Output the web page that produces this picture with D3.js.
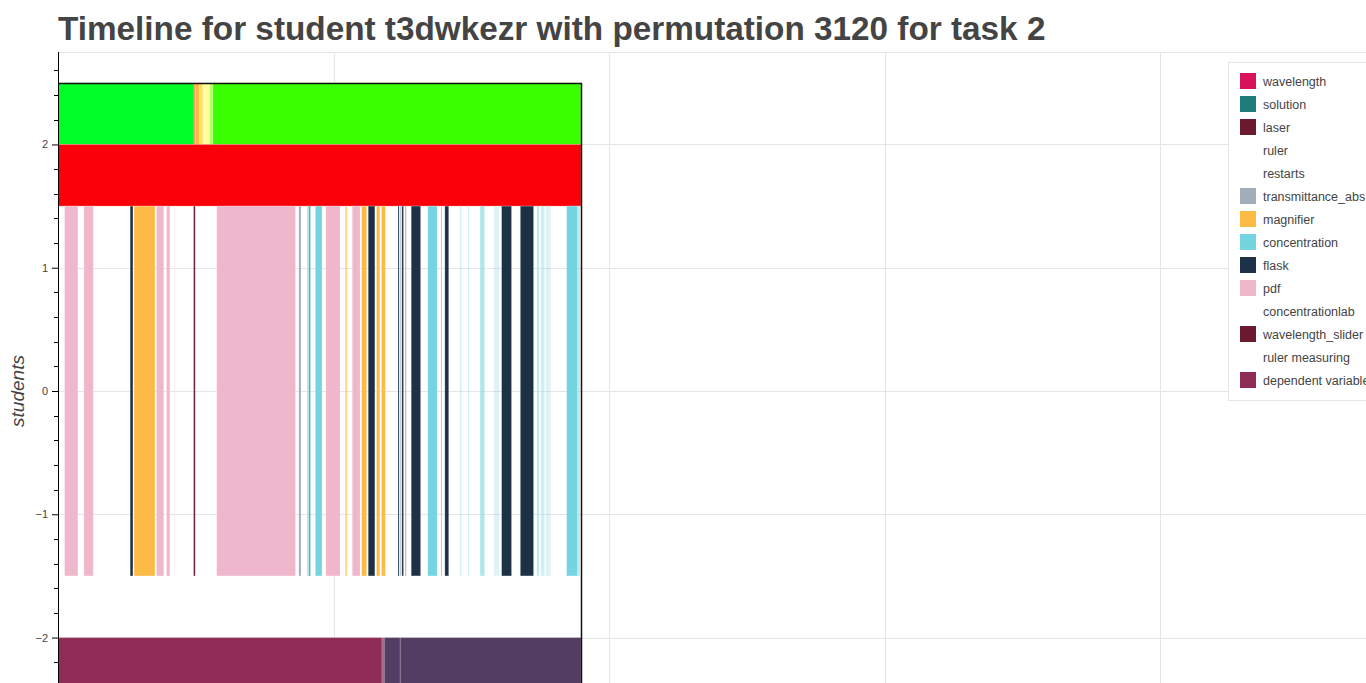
<!DOCTYPE html>
<html>
<head>
<meta charset="utf-8">
<script src="https://cdn.jsdelivr.net/npm/d3@7"></script>
<style>
  body { margin: 0; background: #fff; overflow: hidden; }
  svg { display: block; font-family: "Liberation Sans", Arial, Helvetica, sans-serif; }
</style>
</head>
<body>
<svg id="chart"></svg>
<script>
// legend categories and their colours (bokeh palette, some blank)
var categories = ["wavelength", "solution", "laser", "ruler", "restarts", "transmittance_abs",
  "magnifier", "concentration", "flask", "pdf", "concentrationlab", "wavelength_slider",
  "ruler measuring", "dependent variable"];
var catColors = ["#d8125b", "#1e7f7a", "#6b1a30", "#ffffff", "#ffffff", "#a3adba",
  "#fdbb45", "#74d4e0", "#1c3146", "#efb7cb", "#ffffff", "#6b1a30",
  "#ffffff", "#8e2c55"];

// middle row: actions over time (seconds), weight = strength of the colour
var evCat =   ["pdf","pdf","flask","magnifier","pdf","pdf","pdf","wavelength_slider","pdf","transmittance_abs",
  "concentration","solution","concentration","pdf","magnifier","pdf","magnifier","flask","magnifier","magnifier",
  "flask","transmittance_abs","flask","transmittance_abs","flask","concentration","transmittance_abs","flask",
  "concentration","concentration","concentration","concentration","flask","flask","concentration","concentration",
  "concentration","concentration","concentration"];
var evStart = [12,47,131,138,179,197,211,246,288,437,
  452,456,467,486,521,534,551,563,578,587,
  617,621,624,630,641,671,695,702,
  730,744,766,791,805,839,869,876,885,923,943];
var evEnd =   [36,64,136,176,192,203,212,249,431,441,
  456,458,479,512,525,548,560,575,584,594,
  619,622,627,632,658,688,696,709,
  732,746,774,801,823,863,873,883,894,943,947];
var evWeight = [1,1,1,1,1,1,0.2,1,1,1,
  0.6,1,1,1,0.6,1,1,1,1,1,
  1,1,1,1,1,1,1,1,
  0.5,0.4,0.6,0.25,1,1,0.5,0.35,0.25,1,0.5];

// top row: state over time
var topState = ["a","b","c","d","e","f","g"];
var topStart = [0, 247, 250, 257, 263, 275, 281];
var topEnd =   [247, 250, 257, 263, 275, 281, 949];
var stateColors = {a: "#00ff26", b: "#ff8a3c", c: "#ffb547", d: "#ffe45a", e: "#ffff9e", f: "#b8ff66", g: "#39ff00"};

// second row
var redStart = [0], redEnd = [949];

// bottom row
var botCat = ["dependent variable", "other", "independent", "independent"];
var botStart = [0, 588, 592, 621];
var botEnd =   [588, 592, 621, 949];
var botColors = {"dependent variable": "#8e2c55", "other": "#9e5a7e", "independent": "#523d63"};

var yTicks = [2, 1, 0, -1, -2];
var xGrid = [500, 1000, 1500, 2000];

var width = 1366, height = 683;
var mLeft = 58, mTop = 52, mRight = 1380, mBottom = 730;

var svg = d3.select("#chart").attr("width", width).attr("height", height);

var x = d3.scaleLinear().domain([0, 2399]).range([mLeft, mRight]);
var y = d3.scaleLinear().domain([2.75, -2.75]).range([mTop, mBottom]);
var color = d3.scaleOrdinal().domain(categories).range(catColors);

svg.append("text")
  .attr("x", 58).attr("y", 40)
  .attr("font-size", 33.3).attr("font-weight", "bold").attr("fill", "#444")
  .text("Timeline for student t3dwkezr with permutation 3120 for task 2");

// grid
var grid = svg.append("g");
grid.selectAll(".hg").data(yTicks).enter().append("line")
  .attr("x1", mLeft).attr("x2", width)
  .attr("y1", function(d) { return Math.round(y(d)) + 0.5; })
  .attr("y2", function(d) { return Math.round(y(d)) + 0.5; })
  .attr("stroke", "#e5e5e5");
grid.selectAll(".vg").data(xGrid).enter().append("line")
  .attr("x1", function(d) { return Math.round(x(d)) + 0.5; })
  .attr("x2", function(d) { return Math.round(x(d)) + 0.5; })
  .attr("y1", mTop).attr("y2", height)
  .attr("stroke", "#e5e5e5");
svg.append("line").attr("x1", mLeft).attr("x2", width).attr("y1", mTop + 0.5).attr("y2", mTop + 0.5)
  .attr("stroke", "#e5e5e5");

function bars(g, starts, ends, y0, y1, fill, op) {
  g.selectAll("rect").data(d3.range(starts.length)).enter().append("rect")
    .attr("x", function(i) { return x(starts[i]); })
    .attr("width", function(i) { return Math.max(0.8, x(ends[i]) - x(starts[i])); })
    .attr("y", y(y0)).attr("height", y(y1) - y(y0))
    .attr("fill", fill)
    .attr("fill-opacity", op || 1)
    .attr("stroke", "#fff").attr("stroke-opacity", 0.25).attr("stroke-width", 0.8);
}

bars(svg.append("g"), topStart, topEnd, 2.5, 2.0, function(i) { return stateColors[topState[i]]; });
bars(svg.append("g"), redStart, redEnd, 2.0, 1.5, function() { return "#fa0008"; });
bars(svg.append("g"), evStart, evEnd, 1.5, -1.5,
  function(i) { return color(evCat[i]); }, function(i) { return evWeight[i]; });
bars(svg.append("g"), botStart, botEnd, -2.0, -2.5, function(i) { return botColors[botCat[i]]; });

// dark outline round the timeline
svg.append("path")
  .attr("d", "M" + mLeft + "," + (Math.round(y(2.5)) + 0.5) + "H" + (Math.round(x(949)) + 0.5) + "V" + height)
  .attr("fill", "none").attr("stroke", "#111").attr("stroke-width", 1.5);

// y axis
var yAxis = d3.axisLeft(y).tickValues(yTicks).tickSize(6).tickPadding(4)
  .tickFormat(function(d) { return d < 0 ? "\u2212" + Math.abs(d) : d; });
var ax = svg.append("g").attr("transform", "translate(" + mLeft + ",0)").call(yAxis);
ax.select(".domain").attr("d", "M0.5," + mTop + "V" + height).attr("stroke", "#000");
ax.selectAll(".tick line").attr("stroke", "#000");
ax.selectAll(".tick text").attr("fill", "#444").attr("font-size", 11)
  .attr("font-family", "Liberation Sans, Arial, sans-serif");
var minor = d3.range(-27, 28).map(function(k) { return k / 10; })
  .filter(function(v) { return Math.abs(v * 5 - Math.round(v * 5)) < 1e-6 && Math.abs(v - Math.round(v)) > 1e-6; });
ax.selectAll(".minor").data(minor).enter().append("line")
  .attr("x1", -4).attr("x2", 0)
  .attr("y1", function(d) { return Math.round(y(d)) + 0.5; })
  .attr("y2", function(d) { return Math.round(y(d)) + 0.5; })
  .attr("stroke", "#000");

svg.append("text")
  .attr("transform", "translate(24," + y(0) + ") rotate(-90)")
  .attr("text-anchor", "middle")
  .attr("font-size", 19).attr("font-style", "italic").attr("fill", "#444")
  .text("students");

// legend
var lg = svg.append("g").attr("transform", "translate(1228,62)");
lg.append("rect").attr("x", 0.5).attr("y", 0.5).attr("width", 200).attr("height", 338)
  .attr("fill", "#fff").attr("stroke", "#e5e5e5");
var item = lg.selectAll(".item").data(categories).enter().append("g")
  .attr("transform", function(d, i) { return "translate(12," + (11 + i * 23) + ")"; });
item.append("rect").attr("width", 16).attr("height", 16)
  .attr("fill", function(d) { return color(d); });
item.append("text").attr("x", 23).attr("y", 12.5)
  .attr("font-size", 12.5).attr("fill", "#444")
  .text(function(d) { return d; });
</script>
</body>
</html>
